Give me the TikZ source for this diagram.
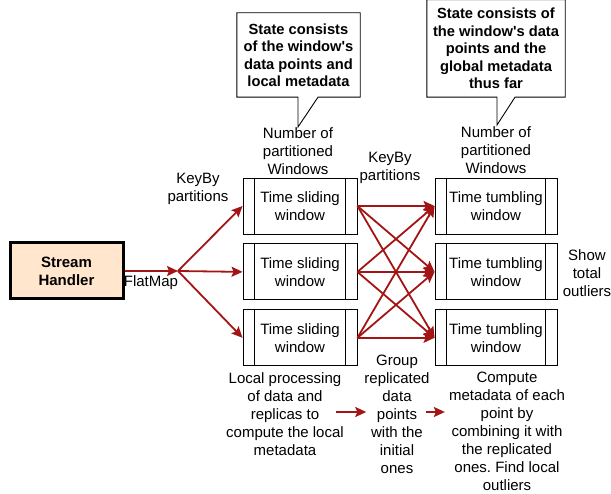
\documentclass[tikz,border=0pt]{standalone}
\usepackage{fontspec}
\setmainfont{Liberation Sans}
\usetikzlibrary{positioning,arrows.meta}
\definecolor{flowred}{RGB}{163,21,21}
\definecolor{handlerfill}{RGB}{255,230,204}
\frenchspacing
\begin{document}
\begin{tikzpicture}[
    x=1pt, y=-1pt,
    font=\fontsize{15}{18}\selectfont,
    node distance=9pt,
    txt/.style={
        align=center,
        inner sep=0pt
    },
    winbox/.style={
        rectangle,
        draw,
        line width=0.9pt,
        minimum height=56pt,
        inner sep=0pt,
        align=center
    },
    note/.style={
        rectangle,
        inner sep=0pt,
        align=center,
        font=\bfseries\fontsize{14.7}{17.5}\selectfont
    },
    arrow/.style={-{Stealth[length=11pt,width=10pt,inset=2pt]}, line width=1.8pt, draw=flowred}
]
\useasboundingbox (0,0) rectangle (611,494);

% Nodes
\node[rectangle, draw, line width=3pt, fill=handlerfill, minimum width=113pt, minimum height=56pt,
      align=center, font=\bfseries\fontsize{15}{18}\selectfont] (handler) at (66.5,271) {Stream\\Handler};
\node[txt] (flatmap) at (151,283) {FlatMap};
\coordinate (split) at (178,271);
\node[txt] (keyby1) at (198,189) {KeyBy\\partitions};

\node[winbox, minimum width=114pt] (slide1) at (300,206) {Time sliding\\window};
\node[winbox, minimum width=114pt, below=of slide1] (slide2) {Time sliding\\window};
\node[winbox, minimum width=114pt, below=of slide2] (slide3) {Time sliding\\window};

\node[winbox, minimum width=122pt] (tumb1) at (496,206) {Time tumbling\\window};
\node[winbox, minimum width=122pt, below=of tumb1] (tumb2) {Time tumbling\\window};
\node[winbox, minimum width=122pt, below=of tumb2] (tumb3) {Time tumbling\\window};

\node[txt] (parts1) at (298,151) {Number of\\partitioned\\Windows};
\node[txt] (keyby2) at (390,168) {KeyBy\\partitions};
\node[txt] (parts2) at (496,150) {Number of\\partitioned\\Windows};
\node[txt] (total) at (587,273) {Show\\total\\outliers};

\node[note, minimum width=123pt, minimum height=84pt] (state1) at (298.5,55)
    {State consists\\of the window\textquotesingle s\\data points and\\local metadata};
\coordinate (tip1) at (298,127);
\node[note, minimum width=138pt, minimum height=97pt] (state2) at (496,48.5)
    {State consists of\\the window\textquotesingle s data\\points and the\\global metadata\\thus far};
\coordinate (tip2) at (497,125);

\node[txt] (local) at (285,414) {Local processing\\of data and\\replicas to\\compute the local\\metadata};
\node[txt] (group) at (397,414) {Group\\replicated\\data\\points\\with the\\initial\\ones};
\node[txt] (compute) at (507,431) {Compute\\metadata of each\\point by\\combining it with\\the replicated\\ones. Find local\\outliers};

% Window borders
\foreach \w in {slide1,slide2,slide3,tumb1,tumb2,tumb3}
    \draw[line width=0.9pt] ([xshift=12pt]\w.north west) -- ([xshift=12pt]\w.south west)
        ([xshift=-12pt]\w.north east) -- ([xshift=-12pt]\w.south east);

% Callouts
\draw[line width=0.9pt] (state1.south west) -- (state1.north west) -- (state1.north east)
    -- (state1.south east) -- ([xshift=20pt]state1.south -| tip1) -- (tip1)
    -- (state1.south -| tip1) -- cycle;
\draw[line width=0.9pt] (state2.south west) -- (state2.north west) -- (state2.north east)
    -- (state2.south east) -- ([xshift=18pt]state2.south -| tip2) -- (tip2)
    -- (state2.south -| tip2) -- cycle;

% Arrows
\draw[arrow] (handler) -- (split);
\foreach \i in {1,2,3}
    \draw[arrow] (split) -- (slide\i.west);
\foreach \i in {1,2,3}
    \foreach \j in {1,2,3}
        \draw[arrow] (slide\i.east) -- (tumb\j.west);
\draw[arrow] ([xshift=-8pt,yshift=2pt]local.east) -- ([xshift=2pt,yshift=2pt]group.west);
\draw[arrow] ([xshift=-4pt,yshift=2pt]group.east) -- ([xshift=-4pt,yshift=2pt]group.east -| compute.west);

\end{tikzpicture}
\end{document}
